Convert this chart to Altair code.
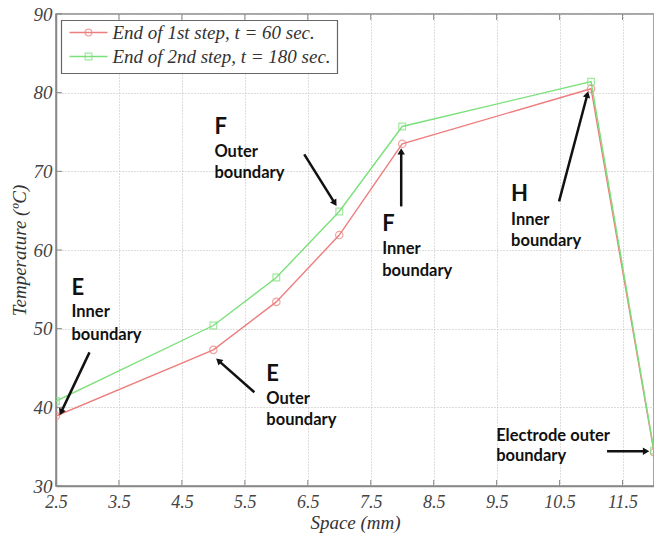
import math
import altair as alt
import pandas as pd

# ---- data ----
space = [2.5, 5, 6, 7, 8, 11, 12]
temp_step1 = [38.9, 47.3, 53.4, 61.9, 73.5, 80.5, 34.3]
temp_step2 = [40.8, 50.4, 56.5, 64.9, 75.7, 81.4, 34.5]
x_ticks = [2.5, 3.5, 4.5, 5.5, 6.5, 7.5, 8.5, 9.5, 10.5, 11.5]
y_ticks = [30, 40, 50, 60, 70, 80, 90]

ann_text = ["E", "Inner", "boundary",
            "E", "Outer", "boundary",
            "F", "Outer", "boundary",
            "F", "Inner", "boundary",
            "H", "Inner", "boundary",
            "Electrode outer", "boundary"]
ann_x = [2.746, 2.746, 2.746,
         5.841, 5.841, 5.841,
         5.016, 5.016, 5.016,
         7.683, 7.683, 7.683,
         9.730, 9.730, 9.730,
         9.492, 9.492]
ann_y = [55.12, 52.07, 49.15,
         44.19, 41.02, 38.35,
         75.58, 72.40, 69.73,
         63.25, 60.08, 57.28,
         67.06, 63.76, 61.09,
         36.31, 33.77]
ann_big = [1, 0, 0, 1, 0, 0, 1, 0, 0, 1, 0, 0, 1, 0, 0, 0, 0]

arrow_x1 = [3.032, 5.651, 6.444, 7.984, 10.492, 11.254]
arrow_y1 = [46.99, 41.91, 72.15, 65.54, 66.18, 34.41]
arrow_x2 = [2.587, 5.095, 6.921, 7.984, 10.937, 11.857]
arrow_y2 = [39.49, 45.84, 66.05, 72.40, 79.64, 34.41]

legend_labels = ["End of 1st step, t = 60 sec.", "End of 2nd step, t = 180 sec."]

# ---- layout ----
W, H = 598, 472
XMIN, XMAX, YMIN, YMAX = 2.5, 12.0, 30.0, 90.0
px_x = W / (XMAX - XMIN)
px_y = H / (YMAX - YMIN)

RED = "#ee7d7d"
GREEN = "#7be07b"
SERIF = "Liberation Serif"
SANS = "Lato"

xs = alt.Scale(domain=[XMIN, XMAX], nice=False, zero=False)
ys = alt.Scale(domain=[YMIN, YMAX], nice=False, zero=False)

df = pd.DataFrame({"x": space, "s1": temp_step1, "s2": temp_step2})

base = alt.Chart(df)

x_axis = alt.Axis(values=x_ticks, title="Space (mm)", grid=True, gridDash=[1, 2],
                  gridColor="#bbbbbb", tickSize=0, labelFont=SERIF, labelFontStyle="italic",
                  labelFontSize=18, labelColor="#444444", labelPadding=7,
                  titleFont=SERIF, titleFontStyle="italic", titleFontWeight="normal",
                  titleFontSize=19, titleColor="#333333", titlePadding=2,
                  domainColor="#888888", domainWidth=1.5, labelFlush=False)
y_axis = alt.Axis(values=y_ticks, title="Temperature (ºC)", grid=True, gridDash=[1, 2],
                  gridColor="#bbbbbb", tickSize=0, labelFont=SERIF, labelFontStyle="italic",
                  labelFontSize=19, labelColor="#444444", labelPadding=4,
                  titleFont=SERIF, titleFontStyle="italic", titleFontWeight="normal",
                  titleFontSize=19, titleColor="#333333", titlePadding=4,
                  domainColor="#888888", domainWidth=1.5, labelFlush=False)

line1 = base.mark_line(color=RED, strokeWidth=1.4, clip=True).encode(
    x=alt.X("x:Q", scale=xs, axis=x_axis), y=alt.Y("s1:Q", scale=ys, axis=y_axis))
pts1 = base.mark_point(shape="circle", color=RED, filled=False, size=55, strokeWidth=1.2, clip=True).encode(
    x=alt.X("x:Q", scale=xs), y=alt.Y("s1:Q", scale=ys))
line2 = base.mark_line(color=GREEN, strokeWidth=1.4, clip=True).encode(
    x=alt.X("x:Q", scale=xs), y=alt.Y("s2:Q", scale=ys))
pts2 = base.mark_point(shape="square", color=GREEN, filled=False, size=45, strokeWidth=1.2, clip=True).encode(
    x=alt.X("x:Q", scale=xs), y=alt.Y("s2:Q", scale=ys))

# inner ticks (MATLAB style)
tick_len = 6
tdf = pd.DataFrame({"t": x_ticks})
xt_bot = alt.Chart(tdf).mark_rule(color="#888888", strokeWidth=1).encode(
    x=alt.X("t:Q", scale=xs), y=alt.datum(YMIN, scale=ys), y2=alt.datum(YMIN + tick_len / px_y))
xt_top = alt.Chart(tdf).mark_rule(color="#888888", strokeWidth=1).encode(
    x=alt.X("t:Q", scale=xs), y=alt.datum(YMAX, scale=ys), y2=alt.datum(YMAX - tick_len / px_y))
ydf = pd.DataFrame({"t": y_ticks})
yt_left = alt.Chart(ydf).mark_rule(color="#888888", strokeWidth=1).encode(
    y=alt.Y("t:Q", scale=ys), x=alt.datum(XMIN, scale=xs), x2=alt.datum(XMIN + tick_len / px_x))

# annotations
adf = pd.DataFrame({"text": ann_text, "x": ann_x, "y": ann_y, "big": ann_big})
ann_big_t = alt.Chart(adf).transform_filter("datum.big == 1").mark_text(
    font=SANS, fontWeight="bold", fontSize=22, align="left", baseline="middle", color="#111111").encode(
    x=alt.X("x:Q", scale=xs), y=alt.Y("y:Q", scale=ys), text="text:N")
ann_small_t = alt.Chart(adf).transform_filter("datum.big == 0").mark_text(
    font=SANS, fontWeight="bold", fontSize=16.5, align="left", baseline="middle", color="#111111").encode(
    x=alt.X("x:Q", scale=xs), y=alt.Y("y:Q", scale=ys), text="text:N")

angles = []
for x1, y1, x2, y2 in zip(arrow_x1, arrow_y1, arrow_x2, arrow_y2):
    dx = (x2 - x1) * px_x
    dy = -(y2 - y1) * px_y
    angles.append(math.degrees(math.atan2(dx, -dy)) % 360)
ardf = pd.DataFrame({"x1": arrow_x1, "y1": arrow_y1, "x2": arrow_x2, "y2": arrow_y2, "ang": angles})
arrow_lines = alt.Chart(ardf).mark_rule(color="#111111", strokeWidth=2.5).encode(
    x=alt.X("x1:Q", scale=xs), y=alt.Y("y1:Q", scale=ys), x2="x2:Q", y2="y2:Q")
arrow_heads = alt.Chart(ardf).mark_point(shape="triangle", filled=True, color="#111111", size=55, opacity=1).encode(
    x=alt.X("x2:Q", scale=xs), y=alt.Y("y2:Q", scale=ys), angle=alt.Angle("ang:Q", scale=None))

# legend (manual)
one = alt.Data(values=[{}])
leg_box = alt.Chart(one).mark_rect(fill="white", stroke="#666666", strokeWidth=1.2).encode(
    x=alt.value(5.5), x2=alt.value(281.5), y=alt.value(6.5), y2=alt.value(59.5))
leg_items = []
for i, (lab, col, shp) in enumerate(zip(legend_labels, [RED, GREEN], ["circle", "square"])):
    yy = 18.5 + 24 * i
    leg_items.append(alt.Chart(one).mark_rule(color=col, strokeWidth=1.5).encode(
        x=alt.value(13.5), x2=alt.value(51.5), y=alt.value(yy)))
    leg_items.append(alt.Chart(one).mark_point(shape=shp, color=col, filled=False, size=45, strokeWidth=1.2).encode(
        x=alt.value(32.5), y=alt.value(yy)))
    leg_items.append(alt.Chart(one).mark_text(text=lab, font=SERIF, fontStyle="italic", fontSize=19,
                                              align="left", baseline="middle", color="#333333").encode(
        x=alt.value(56.5), y=alt.value(yy)))

chart = alt.layer(
    line1, line2, pts1, pts2, xt_bot, xt_top, yt_left,
    arrow_lines, arrow_heads, ann_big_t, ann_small_t,
    leg_box, *leg_items
).properties(
    width=W, height=H,
    autosize=alt.AutoSizeParams(type="none"),
    padding={"left": 56, "top": 14, "right": 0, "bottom": 49},
    background="white",
).configure_view(stroke="#888888", strokeWidth=1.5)

chart.save("out.html", embed_options={"renderer": "svg", "actions": False})
